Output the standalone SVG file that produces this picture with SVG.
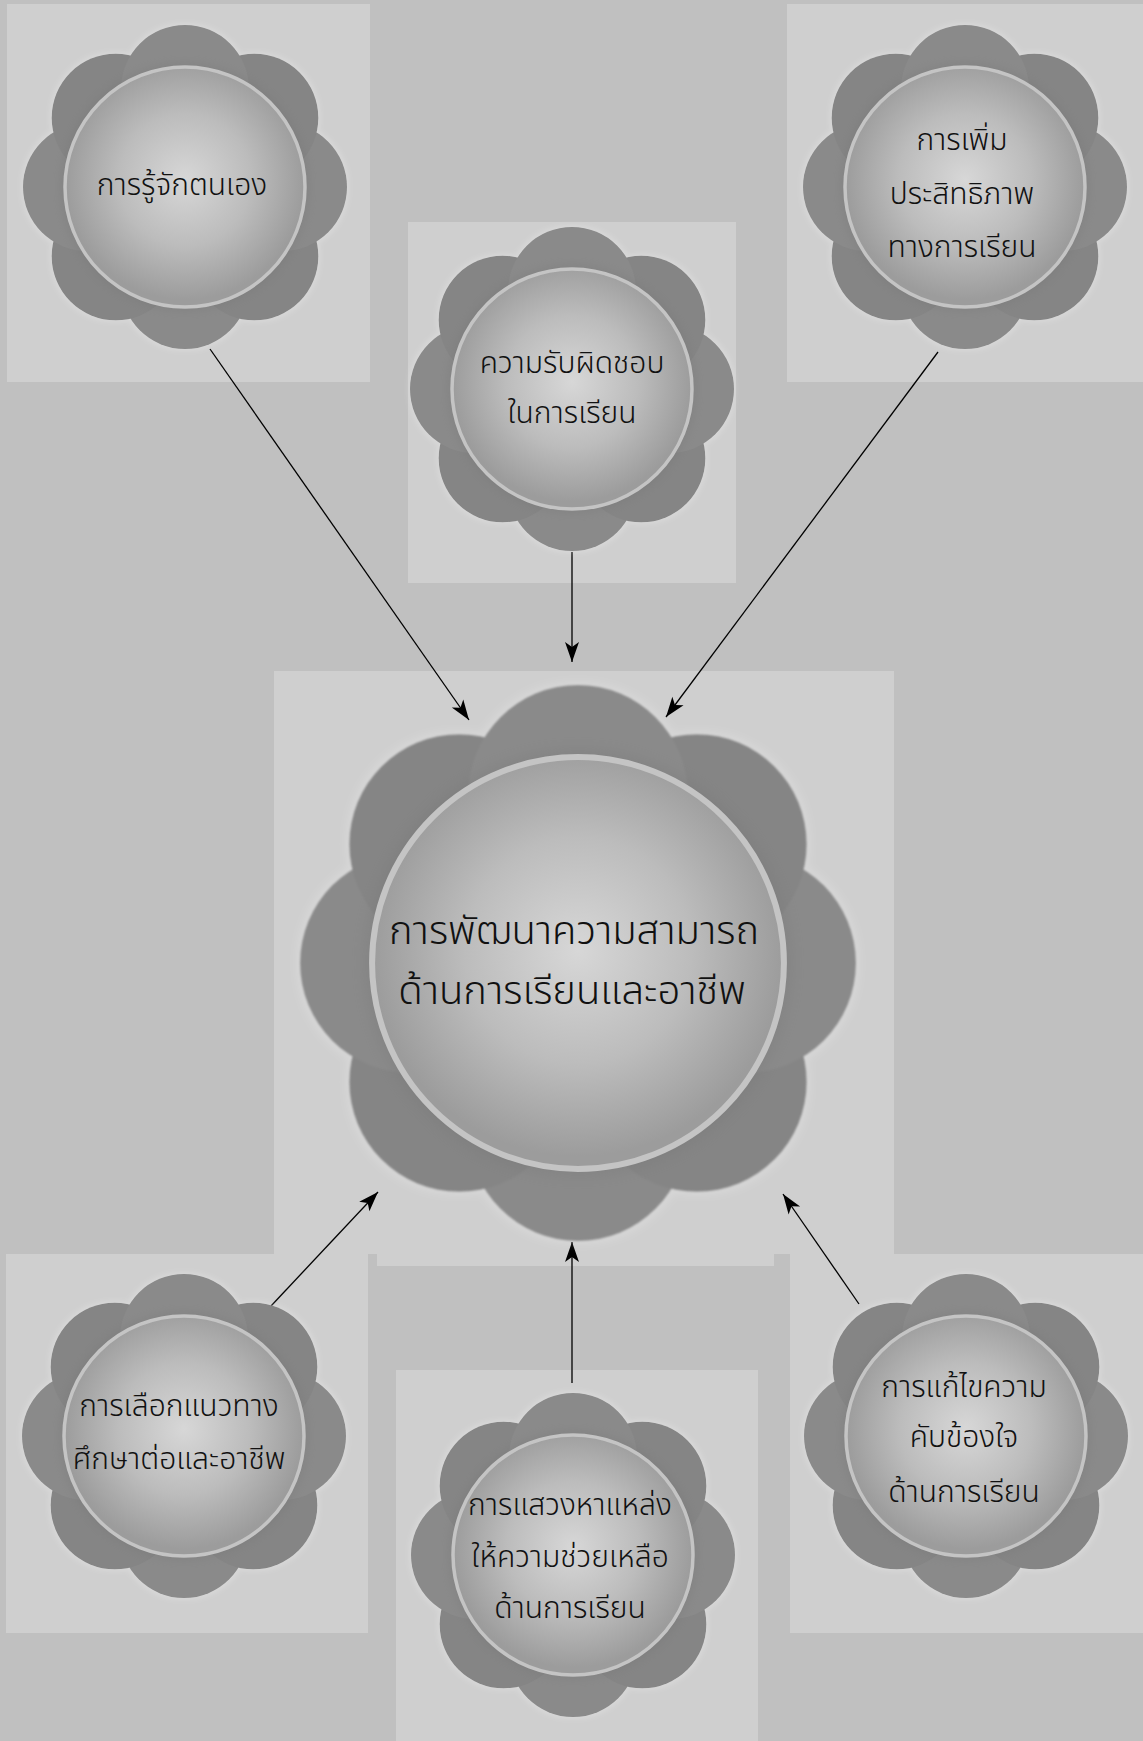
<svg xmlns="http://www.w3.org/2000/svg" width="1143" height="1741" viewBox="0 0 1143 1741">
<style>
.panel{fill:#cfcfcf}
.t{font-family:"Noto Sans Thai","Noto Sans",sans-serif;font-size:30px;font-weight:300;text-anchor:middle;fill:#111}
.tb{font-size:40px}
.c{stroke:#000;stroke-width:1.3;fill:none;marker-end:url(#arr)}
.p1{fill:#8a8a8a}
.p2{fill:#858585}
</style>
<defs>
<radialGradient id="ball" cx="0.5" cy="0.47" r="0.5">
<stop offset="0" stop-color="#d7d7d7"/>
<stop offset="0.55" stop-color="#bcbcbc"/>
<stop offset="1" stop-color="#9c9c9c"/>
</radialGradient>
<filter id="glow" x="-15%" y="-15%" width="130%" height="130%">
<feMorphology in="SourceAlpha" operator="dilate" radius="1.5" result="d"/>
<feGaussianBlur in="d" stdDeviation="2.5" result="b"/>
<feColorMatrix in="b" type="matrix" values="0 0 0 0 1  0 0 0 0 1  0 0 0 0 1  0 0 0 0.18 0" result="w"/>
<feGaussianBlur in="SourceGraphic" stdDeviation="0.7" result="s"/>
<feMerge><feMergeNode in="w"/><feMergeNode in="s"/></feMerge>
</filter>
<filter id="shade" x="-20%" y="-20%" width="140%" height="140%"><feGaussianBlur stdDeviation="4"/></filter>
<g id="flower">
<g filter="url(#glow)">
<circle class="p1" cx="0" cy="98" r="64"/>
<circle class="p2" cx="-69.3" cy="69.3" r="64"/>
<circle class="p2" cx="69.3" cy="69.3" r="64"/>
<circle class="p1" cx="-98" cy="0" r="64"/>
<circle class="p1" cx="98" cy="0" r="64"/>
<circle class="p2" cx="-69.3" cy="-69.3" r="64"/>
<circle class="p2" cx="69.3" cy="-69.3" r="64"/>
<circle class="p1" cx="0" cy="-98" r="64"/>
</g>
<circle r="124" fill="#6a6a6a" opacity="0.2" filter="url(#shade)"/>
<circle r="120" fill="url(#ball)" stroke="#c4c4c4" stroke-width="3.5"/>
</g>
<marker id="arr" markerUnits="userSpaceOnUse" viewBox="-21 -8 22 16" refX="0" refY="0" markerWidth="22" markerHeight="16" orient="auto">
<path d="M0,0 L-20,-7 L-15,0 L-20,7 Z" fill="#000"/>
</marker>
</defs>

<rect width="1143" height="1741" fill="#c0c0c0"/>

<g id="panels">
<rect class="panel" x="7" y="4" width="363" height="378"/>
<rect class="panel" x="408" y="222" width="328" height="361"/>
<rect class="panel" x="787" y="4" width="356" height="378"/>
<rect class="panel" x="274" y="671" width="620" height="583"/>
<rect class="panel" x="377" y="1253" width="397" height="13"/>
<rect class="panel" x="6" y="1254" width="362" height="379"/>
<rect class="panel" x="396" y="1370" width="362" height="371"/>
<rect class="panel" x="790" y="1254" width="353" height="379"/>
</g>

<g id="connectors">
<line class="c" x1="210" y1="349" x2="469" y2="720"/>
<line class="c" x1="572" y1="552" x2="572" y2="662"/>
<line class="c" x1="938" y1="352" x2="666" y2="717"/>
<line class="c" x1="271" y1="1306" x2="378" y2="1192"/>
<line class="c" x1="572" y1="1383" x2="572" y2="1242"/>
<line class="c" x1="859" y1="1304" x2="783" y2="1194"/>
</g>

<g id="node-self">
<use href="#flower" transform="translate(185,187)"/>
<text class="t" x="182" y="195">การรู้จักตนเอง</text>
</g>

<g id="node-responsibility">
<use href="#flower" transform="translate(572,389)"/>
<text class="t" x="572" y="373">ความรับผิดชอบ</text>
<text class="t" x="572" y="423">ในการเรียน</text>
</g>

<g id="node-efficiency">
<use href="#flower" transform="translate(965,187)"/>
<text class="t" x="962" y="150">การเพิ่ม</text>
<text class="t" x="962" y="204">ประสิทธิภาพ</text>
<text class="t" x="962" y="257">ทางการเรียน</text>
</g>

<g id="node-center">
<use href="#flower" transform="translate(578,963) scale(1.716)"/>
<text class="t tb" x="574" y="944">การพัฒนาความสามารถ</text>
<text class="t tb" x="572" y="1004">ด้านการเรียนและอาชีพ</text>
</g>

<g id="node-career">
<use href="#flower" transform="translate(184,1436)"/>
<text class="t" x="179" y="1416">การเลือกแนวทาง</text>
<text class="t" x="179" y="1469">ศึกษาต่อและอาชีพ</text>
</g>

<g id="node-help">
<use href="#flower" transform="translate(573,1555)"/>
<text class="t" x="570" y="1515">การแสวงหาแหล่ง</text>
<text class="t" x="570" y="1567">ให้ความช่วยเหลือ</text>
<text class="t" x="570" y="1618">ด้านการเรียน</text>
</g>

<g id="node-frustration">
<use href="#flower" transform="translate(966,1436)"/>
<text class="t" x="964" y="1397">การแก้ไขความ</text>
<text class="t" x="964" y="1447">คับข้องใจ</text>
<text class="t" x="964" y="1502">ด้านการเรียน</text>
</g>
</svg>
